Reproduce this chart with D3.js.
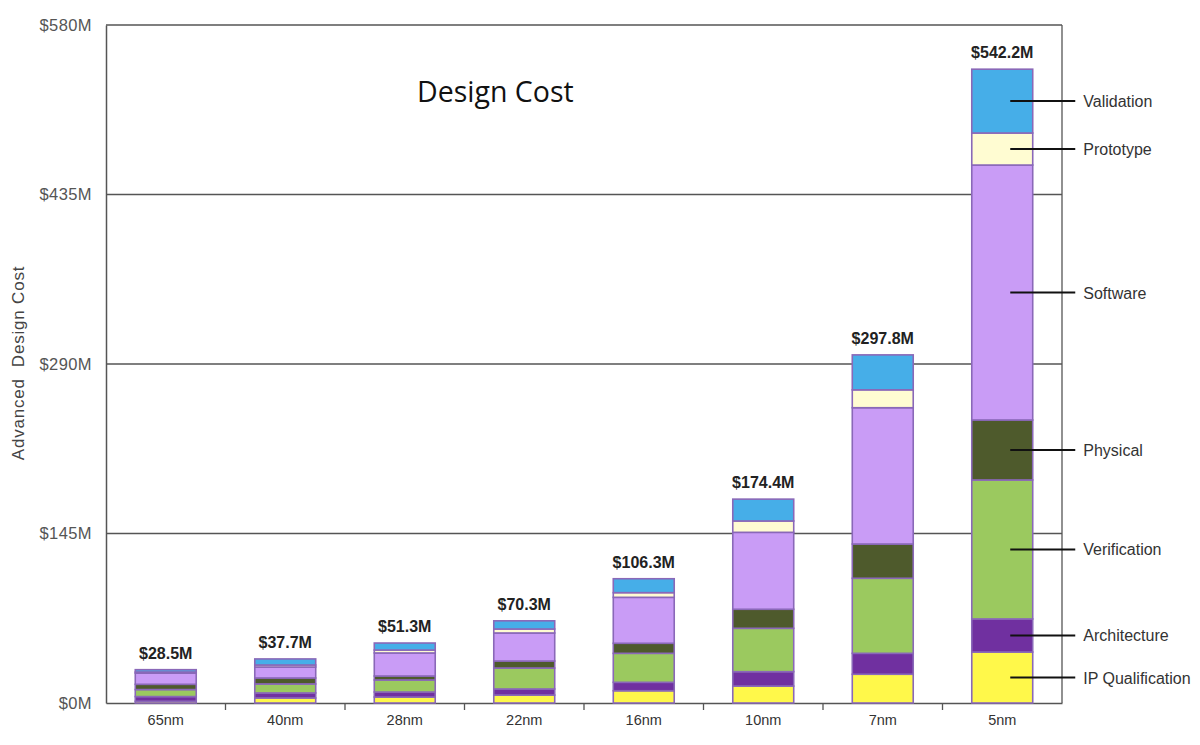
<!DOCTYPE html>
<html>
<head>
<meta charset="utf-8">
<script src="https://cdn.jsdelivr.net/npm/d3@7"></script>
<style>
  body { margin: 0; background: #fff; }
  svg { display: block; }
</style>
</head>
<body>
<div id="chart"></div>
<script>
// nodes and cost components (bottom to top), $M
const nodes = ["65nm", "40nm", "28nm", "22nm", "16nm", "10nm", "7nm", "5nm"];
const totals = [28.5, 37.7, 51.3, 70.3, 106.3, 174.4, 297.8, 542.2];
const components = ["IP Qualification", "Architecture", "Verification", "Physical", "Software", "Prototype", "Validation"];

const ipQualification = [1.5, 4.3, 5.1, 6.8, 10.5, 14.5, 24.6, 43.6];
const architecture    = [4.0, 4.3, 4.3, 5.2, 7.2, 12.3, 17.9, 28.3];
const verification    = [6.0, 7.7, 10.3, 17.9, 24.8, 37.1, 64.2, 118.9];
const physical        = [4.5, 5.1, 3.4, 6.0, 8.6, 16.3, 29.3, 51.3];
const software        = [9.5, 9.4, 19.7, 24.0, 39.3, 65.8, 116.6, 218.1];
const prototype       = [1.0, 1.7, 2.5, 3.4, 4.0, 9.7, 15.3, 27.4];
const validation      = [2.0, 5.2, 6.0, 7.0, 11.9, 18.7, 29.9, 54.6];

const yTicks = [0, 145, 290, 435, 580];

const colors = ["#fff84a", "#7030a0", "#9bc95f", "#4e5a2c", "#c99cf6", "#fffcd2", "#46aee8"];

const width = 1200, height = 745;
const margin = {left: 106, right: 138, top: 25, bottom: 42};

const svg = d3.select("#chart").append("svg")
  .attr("width", width)
  .attr("height", height);

let x = d3.scaleBand()
  .domain(nodes)
  .range([margin.left, width - margin.right])
  .paddingInner(0.49)
  .paddingOuter(0.245);

let y = d3.scaleLinear()
  .domain([0, 580])
  .range([height - margin.bottom, margin.top]);

// gridlines + frame
svg.append("g")
  .selectAll("line")
  .data(yTicks.filter(d => d > 0))
  .enter()
  .append("line")
  .attr("x1", margin.left)
  .attr("x2", width - margin.right)
  .attr("y1", d => y(d))
  .attr("y2", d => y(d))
  .attr("stroke", "#555")
  .attr("stroke-width", 1.3);

svg.append("line")
  .attr("x1", width - margin.right).attr("x2", width - margin.right)
  .attr("y1", y(580)).attr("y2", y(0))
  .attr("stroke", "#555").attr("stroke-width", 1.3);

// y axis
let yAxis = svg.append("g")
  .attr("transform", "translate(" + margin.left + ",0)")
  .call(d3.axisLeft(y).tickValues(yTicks).tickSize(0).tickPadding(14).tickFormat(d => "$" + d + "M"));
yAxis.select(".domain").attr("stroke", "#555").attr("stroke-width", 1.5);
yAxis.selectAll("text")
  .style("font-family", "'Liberation Sans', Arial, sans-serif")
  .style("font-size", "16.5px")
  .style("letter-spacing", "0.4px")
  .attr("fill", "#555");

// x axis, ticks between bands
let xAxis = svg.append("g")
  .attr("transform", "translate(0," + y(0) + ")")
  .call(d3.axisBottom(x).tickSize(0).tickPadding(12));
xAxis.select(".domain").attr("stroke", "#555").attr("stroke-width", 1.5);
xAxis.selectAll("text")
  .style("font-family", "'Liberation Sans', Arial, sans-serif")
  .style("font-size", "14.5px")
  .attr("fill", "#333");

const step = x.step();
xAxis.selectAll(".sep")
  .data(nodes.slice(1))
  .enter()
  .append("line")
  .attr("x1", d => x(d) - (step - x.bandwidth()) / 2)
  .attr("x2", d => x(d) - (step - x.bandwidth()) / 2)
  .attr("y1", 0).attr("y2", 7)
  .attr("stroke", "#555").attr("stroke-width", 1.3);

// y axis title
svg.append("text")
  .attr("transform", "translate(24,363) rotate(-90)")
  .attr("text-anchor", "middle")
  .style("font-family", "'Liberation Sans', Arial, sans-serif")
  .style("font-size", "17px")
  .style("letter-spacing", "0.8px")
  .attr("fill", "#444")
  .attr("xml:space", "preserve")
  .text("Advanced  Design Cost");

// stacked data
const seriesValues = [ipQualification, architecture, verification, physical, software, prototype, validation];
let rows = nodes.map((n, i) => {
  let r = {node: n};
  components.forEach((c, j) => { r[c] = seriesValues[j][i]; });
  return r;
});
let stacked = d3.stack().keys(components)(rows);

svg.append("g")
  .selectAll("g")
  .data(stacked)
  .enter()
  .append("g")
  .attr("fill", (d, i) => colors[i])
  .selectAll("rect")
  .data(d => d)
  .enter()
  .append("rect")
  .attr("x", d => x(d.data.node))
  .attr("y", d => y(d[1]))
  .attr("width", x.bandwidth())
  .attr("height", d => y(d[0]) - y(d[1]))
  .attr("stroke", "#8a68b8")
  .attr("stroke-width", 1.6);

// total labels
svg.append("g")
  .selectAll("text")
  .data(nodes)
  .enter()
  .append("text")
  .attr("x", d => x(d) + x.bandwidth() / 2)
  .attr("y", (d, i) => y(totals[i]) - 11)
  .attr("text-anchor", "middle")
  .style("font-family", "'Liberation Sans', Arial, sans-serif")
  .style("font-size", "16px")
  .style("font-weight", "bold")
  .attr("fill", "#222")
  .text((d, i) => "$" + totals[i].toFixed(1) + "M");

// legend leaders from the 5nm bar
let last = nodes.length - 1;
let cx = x(nodes[last]) + x.bandwidth() / 2;
let leaders = svg.append("g")
  .selectAll("g")
  .data(stacked)
  .enter()
  .append("g");
leaders.append("line")
  .attr("x1", cx + 8)
  .attr("x2", cx + 73)
  .attr("y1", d => y((d[last][0] + d[last][1]) / 2))
  .attr("y2", d => y((d[last][0] + d[last][1]) / 2))
  .attr("stroke", "#111")
  .attr("stroke-width", 2);
leaders.append("text")
  .attr("x", cx + 81)
  .attr("y", d => y((d[last][0] + d[last][1]) / 2) + 6)
  .style("font-family", "'Liberation Sans', Arial, sans-serif")
  .style("font-size", "16px")
  .attr("fill", "#333")
  .text(d => d.key);

// title
svg.append("text")
  .attr("x", 417)
  .attr("y", 102)
  .style("font-family", "'Open Sans', sans-serif")
  .style("font-size", "28.5px")
  .attr("fill", "#111")
  .text("Design Cost");
</script>
</body>
</html>
